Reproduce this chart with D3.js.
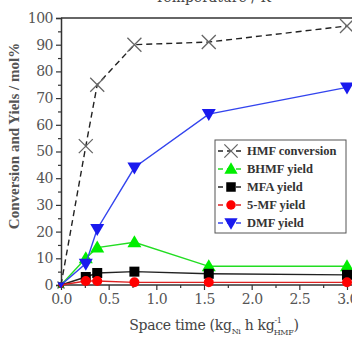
<!doctype html>
<html>
<head>
<meta charset="utf-8">
<script src="https://d3js.org/d3.v7.min.js"></script>
<style>
  body { margin: 0; background: #fff; }
</style>
</head>
<body>
<svg id="chart" width="352" height="338"></svg>
<script>
// space time values (kg_Ni h kg_HMF^-1)
var spaceTime = [0, 0.26, 0.38, 0.77, 1.55, 3.0];

var hmfConversion = [0, 52, 75, 90, 91, 97];
var bhmfYield     = [0, 10, 14, 16, 7, 7];
var mfaYield      = [0, 3, 4.5, 5, 4.2, 3.8];
var mfYield       = [0, 1.5, 1.5, 1, 1, 1];
var dmfYield      = [0, 8, 21, 44, 64, 74];

var seriesNames = ["HMF conversion", "BHMF yield", "MFA yield", "5-MF yield", "DMF yield"];
var xTicks = [0, 0.5, 1.0, 1.5, 2.0, 2.5, 3.0];
var yTicks = [0, 10, 20, 30, 40, 50, 60, 70, 80, 90, 100];

var serif = "DejaVu Serif";
var boldSerif = "Liberation Serif";
var svg = d3.select("#chart");
var x = d3.scaleLinear().domain([0, 3]).range([61, 347]);
var y = d3.scaleLinear().domain([0, 100]).range([285, 18]);

var series = [
  {name: seriesNames[0], values: hmfConversion, color: "#222", dash: "6,4", marker: "cross", mcolor: "#666"},
  {name: seriesNames[1], values: bhmfYield, color: "#22dd22", dash: null, marker: "tri", mcolor: "#00ee00"},
  {name: seriesNames[2], values: mfaYield, color: "#222", dash: null, marker: "square", mcolor: "#000"},
  {name: seriesNames[3], values: mfYield, color: "#dd2222", dash: null, marker: "circle", mcolor: "#ff0000"},
  {name: seriesNames[4], values: dmfYield, color: "#3344ee", dash: null, marker: "tridown", mcolor: "#1a1aee"}
];

// title (cut off at top in the reference)
svg.append("text").attr("x", 213).attr("y", 2).attr("text-anchor", "middle")
  .attr("font-family", serif).attr("font-size", 14).attr("fill", "#444").text("Temperature / K");

// top frame line
svg.append("line").attr("x1", x(0)).attr("x2", 352).attr("y1", y(100)).attr("y2", y(100))
  .attr("stroke", "#333").attr("stroke-width", 1.5);

// y axis
svg.append("g").attr("transform", "translate(" + x(0) + ",0)")
  .call(d3.axisLeft(y).tickValues(yTicks).tickSize(5).tickPadding(3).tickFormat(d3.format("d")));
svg.append("g").attr("transform", "translate(" + x(0) + ",0)")
  .call(d3.axisLeft(y).tickValues(d3.range(5, 100, 10)).tickSize(3).tickFormat(""))
  .select(".domain").remove();

// x axis
var xAxis = svg.append("g").attr("transform", "translate(0," + y(0) + ")")
  .call(d3.axisBottom(x).tickValues(xTicks).tickSize(5).tickPadding(4).tickFormat(d3.format(".1f")));
svg.append("g").attr("transform", "translate(0," + y(0) + ")")
  .call(d3.axisBottom(x).tickValues([0.25, 0.75, 1.25, 1.75, 2.25, 2.75]).tickSize(3).tickFormat(""))
  .select(".domain").remove();

svg.selectAll("g").attr("font-family", serif);
svg.selectAll(".domain").attr("stroke", "#333").attr("stroke-width", 1.5);
svg.selectAll(".tick line").attr("stroke", "#333").attr("stroke-width", 1.2);
svg.selectAll(".tick text").attr("font-size", 14).attr("fill", "#555").attr("letter-spacing", -0.5);
xAxis.select(".domain").attr("d", "M" + x(0) + ",0H352");

// axis labels
svg.append("text").attr("transform", "translate(19,136) rotate(-90)")
  .attr("text-anchor", "middle").attr("font-size", 15).attr("font-weight", "bold").attr("fill", "#555")
  .attr("font-family", boldSerif)
  .text("Conversion and Yiels / mol%");

var xl = svg.append("text").attr("x", 214).attr("y", 330).attr("text-anchor", "middle")
  .attr("font-family", serif).attr("font-size", 14).attr("fill", "#444").attr("letter-spacing", -0.3);
xl.append("tspan").text("Space time (kg");
xl.append("tspan").attr("font-size", 8).attr("dy", 4).text("Ni");
xl.append("tspan").attr("dy", -4).text(" h kg");
xl.append("tspan").attr("font-size", 8).attr("dy", -7).text("-1");
xl.append("tspan").attr("font-size", 8).attr("dx", -8).attr("dy", 12).text("HMF");
xl.append("tspan").attr("dy", -5).text(")");

function drawMarker(g, type, cx, cy, color, s) {
  s = s || 1;
  if (type === "cross") {
    g.append("path").attr("d", "M" + (cx - 7 * s) + "," + (cy - 7 * s) + "L" + (cx + 7 * s) + "," + (cy + 7 * s) +
      "M" + (cx - 7 * s) + "," + (cy + 7 * s) + "L" + (cx + 7 * s) + "," + (cy - 7 * s))
      .attr("stroke", color).attr("stroke-width", 1.3).attr("fill", "none");
  } else if (type === "tri") {
    g.append("path").attr("d", "M" + cx + "," + (cy - 7 * s) + "L" + (cx + 7 * s) + "," + (cy + 5 * s) + "L" + (cx - 7 * s) + "," + (cy + 5 * s) + "Z")
      .attr("fill", color);
  } else if (type === "tridown") {
    g.append("path").attr("d", "M" + cx + "," + (cy + 7 * s) + "L" + (cx + 7 * s) + "," + (cy - 5 * s) + "L" + (cx - 7 * s) + "," + (cy - 5 * s) + "Z")
      .attr("fill", color);
  } else if (type === "square") {
    g.append("rect").attr("x", cx - 5 * s).attr("y", cy - 5 * s).attr("width", 10 * s).attr("height", 10 * s)
      .attr("fill", color);
  } else if (type === "circle") {
    g.append("circle").attr("cx", cx).attr("cy", cy).attr("r", 5 * s).attr("fill", color);
  }
}

var line = d3.line().x(function (d) { return x(d[0]); }).y(function (d) { return y(d[1]); });

var plot = svg.append("g");
series.forEach(function (s) {
  var pts = spaceTime.map(function (t, i) { return [t, s.values[i]]; });
  plot.append("path").attr("d", line(pts)).attr("fill", "none")
    .attr("stroke", s.color).attr("stroke-width", 1.4).attr("stroke-dasharray", s.dash);
  pts.forEach(function (p, i) {
    drawMarker(plot, s.marker, x(p[0]), y(p[1]), s.mcolor, i === 0 ? 0.5 : 1);
  });
});

// legend
var lg = svg.append("g");
lg.append("rect").attr("x", 215).attr("y", 140).attr("width", 131).attr("height", 93)
  .attr("fill", "#fff").attr("stroke", "#555").attr("stroke-width", 1);
series.forEach(function (s, i) {
  var ly = 151 + i * 18;
  lg.append("line").attr("x1", 218).attr("x2", 244).attr("y1", ly).attr("y2", ly)
    .attr("stroke", s.color).attr("stroke-width", 1.4).attr("stroke-dasharray", "5,4");
  drawMarker(lg, s.marker, 231, ly, s.mcolor, 0.95);
  lg.append("text").attr("x", 247).attr("y", ly + 4).attr("font-family", boldSerif)
    .attr("font-size", 12.5).attr("font-weight", "bold").attr("fill", "#333").text(s.name);
});
</script>
</body>
</html>
